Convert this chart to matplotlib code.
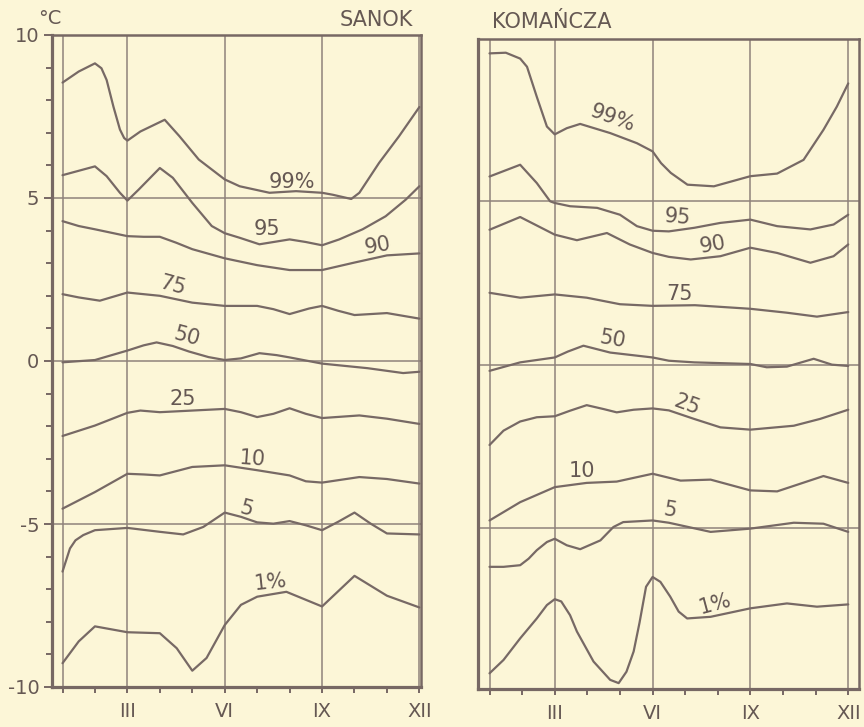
import matplotlib
matplotlib.use("Agg")
import matplotlib.pyplot as plt

# ---------------- data ----------------
month_ticks = [3, 6, 9, 12]
month_labels = ["III", "VI", "IX", "XII"]
grid_months = [1, 3, 6, 9, 12]
grid_temps = [-5, 0, 5]
y_major = [-10, -5, 0, 5, 10]

# SANOK
s99_m = [1, 1.5, 2, 2.2, 2.36, 2.57, 2.77, 2.9, 3, 3.4, 4.15, 4.6, 5.2, 6, 6.46, 7.38, 8.2, 9, 9.33, 9.9, 10.15, 10.76, 11.37, 12]
s99_v = [8.54, 8.88, 9.13, 8.98, 8.62, 7.8, 7.1, 6.84, 6.76, 7.04, 7.4, 6.9, 6.18, 5.57, 5.36, 5.16, 5.21, 5.16, 5.1, 4.97, 5.16, 6.08, 6.89, 7.79]
s95_m = [1, 2, 2.36, 2.77, 3, 3.35, 4, 4.4, 5, 5.6, 6, 6.46, 7.07, 8, 8.5, 9, 9.53, 10.25, 10.96, 11.58, 12]
s95_v = [5.70, 5.97, 5.67, 5.16, 4.92, 5.26, 5.92, 5.62, 4.85, 4.14, 3.92, 3.78, 3.58, 3.73, 3.65, 3.55, 3.73, 4.04, 4.44, 4.95, 5.36]
s90_m = [1, 1.5, 2, 3, 3.5, 4, 4.5, 5, 6, 7, 8, 9, 10, 11, 12]
s90_v = [4.29, 4.14, 4.04, 3.83, 3.81, 3.81, 3.63, 3.43, 3.15, 2.94, 2.79, 2.79, 3.02, 3.24, 3.30]
s75_m = [1, 1.5, 2.15, 3, 4, 5, 6, 7, 7.5, 8, 8.6, 9, 9.5, 10, 11, 12]
s75_v = [2.05, 1.95, 1.85, 2.10, 2.0, 1.79, 1.69, 1.69, 1.59, 1.44, 1.61, 1.69, 1.54, 1.41, 1.47, 1.30]
s50_m = [1, 2, 3, 3.5, 3.9, 4.4, 4.9, 5.5, 6, 6.5, 7.07, 7.6, 8, 9, 10.4, 11.5, 12]
s50_v = [-0.04, 0.03, 0.32, 0.48, 0.57, 0.46, 0.29, 0.12, 0.03, 0.08, 0.24, 0.18, 0.11, -0.08, -0.22, -0.37, -0.33]
s25_m = [1, 2, 3, 3.4, 4, 5, 6, 6.5, 7, 7.5, 8, 8.5, 9, 10.15, 11, 12]
s25_v = [-2.30, -1.98, -1.59, -1.52, -1.57, -1.52, -1.47, -1.57, -1.72, -1.62, -1.45, -1.62, -1.75, -1.67, -1.77, -1.93]
s10_m = [1, 2, 3, 3.5, 4, 5, 6, 7, 8, 8.5, 9, 10.15, 11, 12]
s10_v = [-4.53, -4.02, -3.46, -3.48, -3.51, -3.25, -3.2, -3.35, -3.51, -3.69, -3.73, -3.56, -3.62, -3.76]
s05_m = [1, 1.1, 1.23, 1.4, 1.64, 2, 3, 4, 4.72, 5.34, 6, 6.5, 7, 7.5, 8, 8.5, 9, 9.5, 10, 10.5, 11, 12]
s05_v = [-6.46, -6.15, -5.75, -5.5, -5.34, -5.19, -5.12, -5.24, -5.32, -5.09, -4.65, -4.78, -4.95, -4.99, -4.91, -5.04, -5.19, -4.93, -4.65, -4.99, -5.29, -5.32]
s01_m = [1, 1.5, 2, 3, 4, 4.52, 5, 5.44, 6, 6.5, 7, 7.9, 9, 10, 11, 12]
s01_v = [-9.27, -8.6, -8.14, -8.32, -8.35, -8.81, -9.5, -9.11, -8.1, -7.48, -7.23, -7.08, -7.53, -6.59, -7.2, -7.56]

# KOMANCZA
k99_m = [1, 1.5, 1.94, 2.15, 2.45, 2.76, 3, 3.37, 3.78, 4.7, 5.52, 6, 6.26, 6.56, 7.07, 7.88, 9, 9.82, 10.63, 11.24, 11.65, 12]
k99_v = [9.53, 9.55, 9.37, 9.12, 8.2, 7.29, 7.05, 7.24, 7.37, 7.09, 6.78, 6.53, 6.17, 5.87, 5.51, 5.46, 5.77, 5.85, 6.27, 7.19, 7.9, 8.61]
k95_m = [1, 1.94, 2.45, 2.86, 3, 3.47, 4.3, 5, 5.52, 6, 6.5, 7.28, 8.08, 9, 9.82, 10.84, 11.55, 12]
k95_v = [5.76, 6.12, 5.56, 5.0, 4.95, 4.85, 4.8, 4.59, 4.24, 4.1, 4.08, 4.19, 4.34, 4.44, 4.24, 4.14, 4.29, 4.59]
k90_m = [1, 1.94, 3, 3.68, 4.6, 5.3, 6, 6.5, 7.17, 8.08, 9, 9.82, 10.84, 11.55, 12]
k90_v = [4.13, 4.52, 3.98, 3.81, 4.03, 3.68, 3.42, 3.3, 3.22, 3.32, 3.58, 3.42, 3.12, 3.32, 3.68]
k75_m = [1, 1.94, 3, 3.98, 5, 6, 7.3, 9, 10.12, 11.04, 12]
k75_v = [2.20, 2.05, 2.15, 2.05, 1.85, 1.80, 1.82, 1.71, 1.59, 1.47, 1.61]
k50_m = [1, 1.94, 3, 3.4, 3.88, 4.7, 6, 6.5, 7.28, 9, 9.5, 10.12, 10.94, 11.5, 12]
k50_v = [-0.19, 0.07, 0.22, 0.4, 0.58, 0.37, 0.22, 0.12, 0.07, 0.02, -0.08, -0.06, 0.18, 0.0, -0.04]
k25_m = [1, 1.43, 1.94, 2.45, 3, 3.47, 3.98, 4.5, 4.9, 5.42, 6, 6.5, 7.27, 8.08, 9, 10.33, 11.14, 12]
k25_v = [-2.46, -2.02, -1.74, -1.61, -1.58, -1.41, -1.24, -1.36, -1.46, -1.38, -1.34, -1.4, -1.66, -1.92, -1.99, -1.87, -1.66, -1.38]
k10_m = [1, 1.94, 3, 3.98, 4.9, 6, 6.86, 7.78, 9, 9.82, 11.24, 12]
k10_v = [-4.77, -4.21, -3.75, -3.62, -3.58, -3.34, -3.55, -3.52, -3.85, -3.88, -3.41, -3.62]
k05_m = [1, 1.43, 1.94, 2.2, 2.45, 2.76, 3, 3.37, 3.78, 4.4, 4.8, 5.1, 6, 6.5, 7.78, 9, 10.33, 11.24, 12]
k05_v = [-6.19, -6.19, -6.14, -5.94, -5.68, -5.43, -5.33, -5.53, -5.65, -5.38, -4.97, -4.82, -4.77, -4.84, -5.12, -5.02, -4.84, -4.87, -5.12]
k01_m = [1, 1.43, 1.94, 2.45, 2.76, 3, 3.2, 3.47, 3.68, 4.19, 4.7, 4.96, 5.2, 5.42, 5.6, 5.8, 6, 6.24, 6.54, 6.8, 7.06, 7.78, 9, 10.12, 11.04, 12]
k01_v = [-9.45, -9.04, -8.38, -7.77, -7.36, -7.18, -7.25, -7.67, -8.17, -9.09, -9.65, -9.75, -9.4, -8.78, -7.9, -6.8, -6.5, -6.65, -7.1, -7.56, -7.77, -7.72, -7.46, -7.31, -7.41, -7.34]

sanok_series = [(s99_m, s99_v), (s95_m, s95_v), (s90_m, s90_v), (s75_m, s75_v), (s50_m, s50_v),
                (s25_m, s25_v), (s10_m, s10_v), (s05_m, s05_v), (s01_m, s01_v)]
koma_series = [(k99_m, k99_v), (k95_m, k95_v), (k90_m, k90_v), (k75_m, k75_v), (k50_m, k50_v),
               (k25_m, k25_v), (k10_m, k10_v), (k05_m, k05_v), (k01_m, k01_v)]

label_texts = ["99%", "95", "90", "75", "50", "25", "10", "5", "1%"]
sanok_lab_m = [8.07, 7.3, 10.73, 4.4, 4.83, 4.72, 6.86, 6.66, 7.4]
sanok_lab_v = [5.5, 4.04, 3.52, 2.32, 0.76, -1.16, -3.0, -4.53, -6.79]
sanok_lab_rot = [0, 0, 10, -15, -15, 0, -4, -15, 6]
koma_lab_m = [4.76, 6.75, 7.83, 6.84, 4.76, 7.06, 3.84, 6.53, 7.92]
koma_lab_v = [7.55, 4.5, 3.68, 2.15, 0.78, -1.24, -3.25, -4.47, -7.34]
koma_lab_rot = [-20, -5, 10, 0, -10, -20, 0, -10, 15]

# ---------------- style ----------------
BG = "#fcf6d7"
LINE = "#776965"
GRID = "#8f827b"
SPINE = "#776864"
TXT = "#655853"
FONT = "DejaVu Sans"

W, H = 864, 727
fig = plt.figure(figsize=(W / 100, H / 100), dpi=100, facecolor=BG)
plt.rcParams['font.family'] = [FONT]


def px_axes(x0, x1, ytop, ybot):
    return fig.add_axes([x0 / W, 1 - ybot / H, (x1 - x0) / W, (ybot - ytop) / H])


axL = px_axes(52, 421, 35, 687)
axR = px_axes(478, 859, 39, 689)

for ax, xl, yl in [(axL, (0.676, 12.05), (-10, 10)), (axR, (0.647, 12.33), (-9.93, 9.97))]:
    ax.set_facecolor(BG)
    ax.set_xlim(*xl)
    ax.set_ylim(*yl)
    for m in grid_months:
        ax.axvline(m, color=GRID, lw=1.1, zorder=1)
    for t in grid_temps:
        ax.axhline(t, color=GRID, lw=1.1, zorder=1)
    for sp in ax.spines.values():
        sp.set_color(SPINE)
        sp.set_linewidth(1.8)
    ax.spines['left'].set_linewidth(2.3)
    ax.spines['bottom'].set_linewidth(2.3)
    ax.set_xticks(list(range(1, 13)), minor=True)
    ax.set_xticks(month_ticks)
    ax.set_xticklabels(month_labels, fontsize=14, color=TXT)
    ax.tick_params(axis='x', which='both', direction='out', length=4, width=1.4,
                   color=SPINE, pad=7)

axL.set_yticks(y_major)
axL.set_yticks(list(range(-10, 11)), minor=True)
axL.set_yticklabels([str(v) for v in y_major], fontsize=14, color=TXT)
axL.tick_params(axis='y', which='major', direction='out', length=6, width=1.4, color=SPINE, pad=3)
axL.tick_params(axis='y', which='minor', direction='out', length=4, width=1.4, color=SPINE)
axR.set_yticks([])

for ax, series, lm, lv, lr in [(axL, sanok_series, sanok_lab_m, sanok_lab_v, sanok_lab_rot),
                               (axR, koma_series, koma_lab_m, koma_lab_v, koma_lab_rot)]:
    for (mm, vv) in series:
        ax.plot(mm, vv, color=LINE, lw=1.6, solid_joinstyle='round', solid_capstyle='round', zorder=3)
    for txt, m, v, r in zip(label_texts, lm, lv, lr):
        ax.text(m, v, txt, fontsize=15, color=TXT, ha='center', va='center',
                rotation=r, rotation_mode='anchor', zorder=4)

fig.text(50 / W, 1 - 19 / H, "°C", fontsize=14, color=TXT, ha='center', va='center')
fig.text(413 / W, 1 - 20 / H, "SANOK", fontsize=15, color=TXT, ha='right', va='center')
fig.text(492 / W, 1 - 22 / H, "KOMAŃCZA", fontsize=15, color=TXT, ha='left', va='center')

fig.savefig("out.png", dpi=100, facecolor=BG)
